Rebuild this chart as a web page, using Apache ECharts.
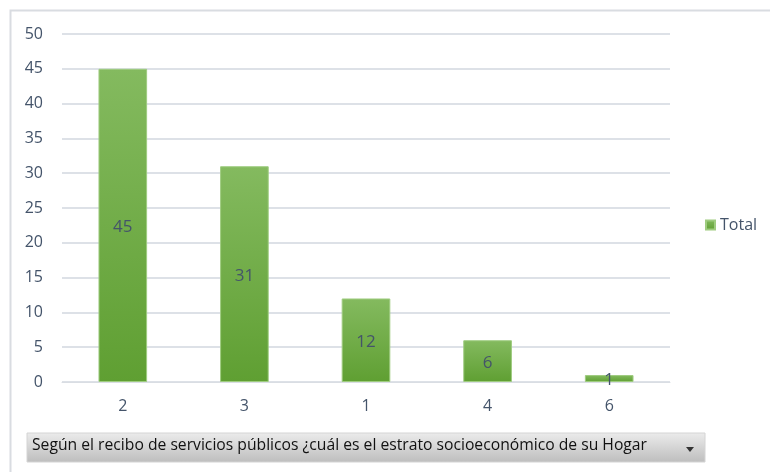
<!DOCTYPE html>
<html><head><meta charset="utf-8">
<script src="https://cdn.jsdelivr.net/npm/echarts@6/dist/echarts.min.js"></script>
<style>html,body{margin:0;padding:0;background:#fff}#c{width:770px;height:472px}</style>
</head><body><div id="c"></div>
<script>
const categories = ['2', '3', '1', '4', '6'];
const totals = [45, 31, 12, 6, 1];
const yTicks = [0, 50, 5];
const seriesName = 'Total';
const fieldLabel = 'Según el recibo de servicios públicos ¿cuál es el estrato socioeconómico de su Hogar';

const chart = echarts.init(document.getElementById('c'));
const txt = '#44546a';
chart.setOption({
  animation: false,
  textStyle: {fontFamily: 'Open Sans'},
  grid: {left: 62, right: 100, top: 34, bottom: 90},
  legend: {
    data: [seriesName], orient: 'vertical', left: 700, top: 212,
    icon: 'rect', itemWidth: 9, itemHeight: 9, itemGap: 4,
    textStyle: {color: txt, fontSize: 16, fontFamily: 'Open Sans'}
  },
  xAxis: {
    type: 'category', data: categories,
    axisLine: {show: true, lineStyle: {color: '#d9dde3', width: 1}},
    axisTick: {show: false},
    axisLabel: {color: txt, fontSize: 16, margin: 16}
  },
  yAxis: {
    type: 'value', min: yTicks[0], max: yTicks[1], interval: yTicks[2],
    axisLine: {show: false}, axisTick: {show: false},
    axisLabel: {color: txt, fontSize: 16, margin: 19},
    splitLine: {lineStyle: {color: '#dde1e7', width: 2}}
  },
  series: [{
    name: seriesName, type: 'bar', data: totals, barWidth: '40%',
    itemStyle: {
      color: new echarts.graphic.LinearGradient(0, 0, 0, 1, [
        {offset: 0, color: '#84ba5f'}, {offset: 1, color: '#5f9f32'}
      ]),
      borderColor: '#9fcc80', borderWidth: 1
    },
    label: {show: true, position: 'inside', color: txt, fontSize: 17, offset: [0, 2]}
  }],
  graphic: [
    {type: 'rect', shape: {x: 10.5, y: 10.5, width: 780, height: 480},
     style: {fill: 'none', stroke: '#d9dce1', lineWidth: 2}, silent: true},
    {type: 'rect', shape: {x: 27, y: 433, width: 678, height: 29},
     style: {fill: new echarts.graphic.LinearGradient(0, 0, 0, 1, [
       {offset: 0, color: '#ececec'}, {offset: 1, color: '#bdbdbd'}
     ]), stroke: '#d4d4d4', lineWidth: 1}},
    {type: 'text', left: 32, top: 438,
     style: {text: fieldLabel, fill: '#111', fontSize: 15.7, fontFamily: 'Open Sans'}},
    {type: 'polygon', shape: {points: [[686, 447], [694, 447], [690, 452]]},
     style: {fill: '#333'}}
  ]
});
</script></body></html>
